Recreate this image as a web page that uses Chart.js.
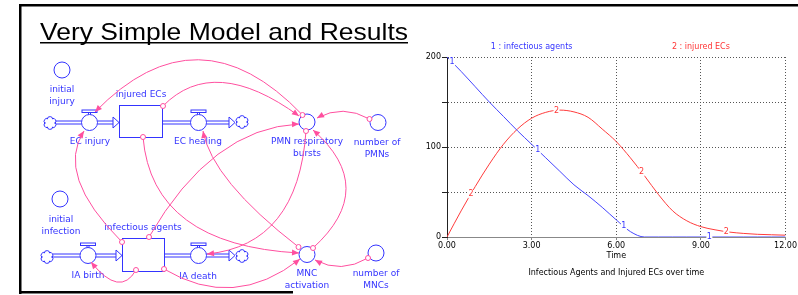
<!DOCTYPE html>
<html>
<head>
<meta charset="utf-8">
<script src="https://cdn.jsdelivr.net/npm/chart.js@4.4.1/dist/chart.umd.min.js"></script>
<style>
  html, body { margin: 0; padding: 0; background: #fff; }
  #page { position: relative; width: 798px; height: 295px; overflow: hidden; }
  #diagram { position: absolute; left: 0; top: 0; }
  #chartBox { position: absolute; left: 400px; top: 20px; width: 398px; height: 275px; }
</style>
</head>
<body>
<div id="page">
  <canvas id="diagram" width="798" height="295"></canvas>
  <div id="chartBox"><canvas id="resultsChart" width="398" height="275"></canvas></div>
</div>
<script>
// Simulation output (time in the model's units)
const timePoints = [0, 0.5, 1, 1.5, 2, 2.5, 3, 3.5, 4, 4.5, 5, 5.5, 6, 6.5, 7, 7.5, 8, 8.5, 9, 9.5, 10, 10.5, 11, 11.5, 12];
const infectiousAgents = [200, 184, 167, 150, 134, 118, 103, 88, 73, 58, 46, 33, 19, 6, 0, 0, 0, 0, 0, 0, 0, 0, 0, 0, 0];
const injuredECs = [0, 29, 56, 81, 103, 120, 132, 138.5, 141, 139, 133, 120, 106, 88, 68, 47, 29, 18, 11.5, 8, 5.5, 4, 3, 2.5, 2];

const seriesNames = ['1 : infectious agents', '2 : injured ECs'];
const xTickValues = [0, 3, 6, 9, 12];
const yTickValues = [0, 50, 100, 150, 200];
const yTickLabels = [0, 100, 200];

// Stella puts the curve number on each line every ~3 time units
const agentMarks = [0.18, 3.22, 6.27, 9.3];
const ecMarks = [0.85, 3.88, 6.9, 9.9];

const BLUE = '#3434ff';
const RED = '#ff3434';
const PINK = '#ff4f9f';

// ---------- left side: slide frame, title and stock/flow diagram ----------
function drawDiagram() {
    const dg = document.getElementById('diagram').getContext('2d');

    // slide frame
    dg.fillStyle = '#000';
    dg.fillRect(19, 4, 779, 2.5);
    dg.fillRect(19, 4, 2.5, 290);
    dg.fillRect(19, 291, 274, 2.5);

    // title
    const title = 'Very Simple Model and Results';
    dg.save();
    dg.font = '24px "Liberation Sans"';
    dg.fillStyle = '#000';
    const w = dg.measureText(title).width;
    dg.translate(40, 39.5);
    dg.scale(368 / w, 1);
    dg.fillText(title, 0, 0);
    dg.restore();
    dg.fillRect(40, 42, 368, 1.5);

    dg.lineWidth = 1;
    dg.strokeStyle = BLUE;

    function ring(x, y, r) {
        dg.beginPath();
        dg.arc(x, y, r, 0, 2 * Math.PI);
        dg.fillStyle = '#fff';
        dg.fill();
        dg.stroke();
    }
    function cloud(cx, cy) {
        dg.beginPath();
        for (let k = 0; k < 6; k++) {
            const a = k * Math.PI / 3 + Math.PI / 6;
            const bx = cx + 3.6 * Math.cos(a), by = cy + 3.6 * Math.sin(a);
            dg.moveTo(bx + 2.8 * Math.cos(a - 1.5), by + 2.8 * Math.sin(a - 1.5));
            dg.arc(bx, by, 2.8, a - 1.5, a + 1.5);
        }
        dg.stroke();
    }
    function pipe(x0, x1, y, arrow) {
        const end = arrow ? x1 - 6 : x1;
        dg.beginPath();
        dg.moveTo(x0, y - 1.5); dg.lineTo(end, y - 1.5);
        dg.moveTo(x0, y + 1.5); dg.lineTo(end, y + 1.5);
        dg.stroke();
        if (arrow) {
            dg.beginPath();
            dg.moveTo(x1 - 6, y - 5.5); dg.lineTo(x1, y); dg.lineTo(x1 - 6, y + 5.5);
            dg.closePath();
            dg.fillStyle = '#fff';
            dg.fill();
            dg.stroke();
        }
    }
    function valve(cx, cy) {
        ring(cx, cy, 8);
        dg.strokeRect(cx - 7.5, cy - 12.5, 15, 2.5);
        dg.beginPath();
        dg.moveTo(cx - 1, cy - 10); dg.lineTo(cx - 1, cy - 8);
        dg.moveTo(cx + 1, cy - 10); dg.lineTo(cx + 1, cy - 8);
        dg.stroke();
    }
    function label(lines, x, y) {
        dg.fillStyle = BLUE;
        dg.font = '9px "DejaVu Sans"';
        dg.textAlign = 'center';
        dg.textBaseline = 'middle';
        lines.forEach((s, i) => dg.fillText(s, x, y + i * 11.7));
    }

    // injured ECs chain
    pipe(56, 81.5, 122.5, false);
    pipe(97.5, 119, 122.5, true);
    pipe(163, 190.5, 122.5, false);
    pipe(206.5, 235, 122.5, true);
    cloud(50, 123);
    cloud(242, 122);
    valve(89.5, 122.5);
    valve(198.5, 122.5);
    dg.fillStyle = '#fff';
    dg.fillRect(119.5, 105.5, 43, 32);
    dg.strokeRect(119.5, 105.5, 43, 32);

    // infectious agents chain
    pipe(53, 80, 255.5, false);
    pipe(96, 122, 255.5, true);
    pipe(164, 190.5, 255.5, false);
    pipe(206.5, 235, 255.5, true);
    cloud(47, 257);
    cloud(242, 256);
    valve(88, 255.5);
    valve(198.5, 255.5);
    dg.fillStyle = '#fff';
    dg.fillRect(122.5, 238.5, 42, 33);
    dg.strokeRect(122.5, 238.5, 42, 33);

    // converters
    ring(62, 70, 8);
    ring(307, 122, 8);
    ring(378, 122.5, 8);
    ring(60, 199, 8);
    ring(307, 254.5, 8);
    ring(376, 253, 8);

    label(['initial', 'injury'], 62, 90);
    label(['injured ECs'], 141, 95);
    label(['EC injury'], 90, 142);
    label(['EC healing'], 198, 142);
    label(['PMN respiratory', 'bursts'], 307, 142);
    label(['number of', 'PMNs'], 377, 143);
    label(['initial', 'infection'], 61, 220);
    label(['infectious agents'], 143, 228);
    label(['IA birth'], 88, 276);
    label(['IA death'], 198, 277);
    label(['MNC', 'activation'], 307, 274);
    label(['number of', 'MNCs'], 376, 274);

    // pink connectors: start, control point, end
    function link(x0, y0, cx, cy, x1, y1) {
        dg.strokeStyle = PINK;
        dg.beginPath();
        dg.moveTo(x0, y0);
        dg.quadraticCurveTo(cx, cy, x1, y1);
        dg.stroke();
        const ang = Math.atan2(y1 - cy, x1 - cx);
        const bx = x1 - 7 * Math.cos(ang), by = y1 - 7 * Math.sin(ang);
        dg.beginPath();
        dg.moveTo(x1, y1);
        dg.lineTo(bx + 3 * Math.sin(ang), by - 3 * Math.cos(ang));
        dg.lineTo(bx - 3 * Math.sin(ang), by + 3 * Math.cos(ang));
        dg.closePath();
        dg.fillStyle = PINK;
        dg.fill();
        dg.beginPath();
        dg.arc(x0, y0, 2.5, 0, 2 * Math.PI);
        dg.fillStyle = '#fff';
        dg.fill();
        dg.stroke();
    }
    link(302.5, 115, 198, 6, 95, 112);      // PMN bursts -> EC injury
    link(163, 106, 214, 54, 299, 116);      // injured ECs -> PMN bursts
    link(369.5, 119, 343, 104, 317, 118);   // number of PMNs -> PMN bursts
    link(143, 137, 152, 245, 299, 253);     // injured ECs -> MNC activation
    link(298.5, 247, 212, 180, 203, 131);   // MNC activation -> EC healing
    link(306, 131, 298, 245, 207, 254);     // PMN bursts -> IA death
    link(149, 237, 212, 128, 299, 124);     // infectious agents -> PMN bursts
    link(313, 248, 379, 188, 313, 130);     // MNC activation -> PMN bursts
    link(122, 242, 55, 175, 84, 131);       // infectious agents -> EC injury
    link(136, 270, 120, 298, 91, 262);      // infectious agents -> IA birth
    link(164, 269, 234, 311, 300, 259);     // infectious agents -> MNC activation
    link(368, 258, 341, 274, 315, 260);     // number of MNCs -> MNC activation
}

// ---------- right side: the Chart.js graph ----------
function valueAt(values, t) {
    for (let i = 0; i < timePoints.length - 1; i++) {
        if (t >= timePoints[i] && t <= timePoints[i + 1]) {
            const f = (t - timePoints[i]) / (timePoints[i + 1] - timePoints[i]);
            return values[i] + f * (values[i + 1] - values[i]);
        }
    }
    return values[values.length - 1];
}

const overlayText = {
    id: 'overlayText',
    afterDatasetsDraw(chart) {
        const { ctx, chartArea: a, scales: { x, y } } = chart;
        ctx.save();
        ctx.font = '8px "DejaVu Sans"';
        ctx.textAlign = 'center';
        ctx.textBaseline = 'middle';

        [[agentMarks, infectiousAgents, '1', BLUE], [ecMarks, injuredECs, '2', RED]].forEach(([marks, vals, num, col]) => {
            marks.forEach(t => {
                const px = x.getPixelForValue(t);
                const py = y.getPixelForValue(valueAt(vals, t));
                ctx.fillStyle = '#fff';
                ctx.fillRect(px - 3, py - 4, 6, 8);
                ctx.fillStyle = col;
                ctx.fillText(num, px, py);
            });
        });

        ctx.fillStyle = BLUE;
        ctx.fillText(seriesNames[0], a.left + a.width * 0.25, a.top - 10);
        ctx.fillStyle = RED;
        ctx.fillText(seriesNames[1], a.left + a.width * 0.75, a.top - 10);

        const mid = (a.left + a.right) / 2;
        ctx.fillStyle = '#000';
        ctx.fillText('Time', mid, a.bottom + 19);
        ctx.fillText('Infectious Agents and Injured ECs over time', mid, a.bottom + 36);
        ctx.restore();
    }
};

function initResultsChart() {
    const ctx = document.getElementById('resultsChart');
    const tickFont = { family: 'DejaVu Sans', size: 8 };
    new Chart(ctx, {
        type: 'line',
        data: {
            datasets: [{
                label: seriesNames[0],
                data: timePoints.map((t, i) => ({ x: t, y: infectiousAgents[i] })),
                borderColor: 'rgb(70,70,255)',
                borderWidth: 1,
                pointRadius: 0,
                cubicInterpolationMode: 'monotone'
            }, {
                label: seriesNames[1],
                data: timePoints.map((t, i) => ({ x: t, y: injuredECs[i] })),
                borderColor: 'rgb(255,60,60)',
                borderWidth: 1,
                pointRadius: 0,
                cubicInterpolationMode: 'monotone'
            }]
        },
        options: {
            responsive: false,
            animation: false,
            layout: { padding: { top: 37, right: 9, left: 0, bottom: 0 } },
            plugins: { legend: { display: false }, tooltip: { enabled: false } },
            scales: {
                x: {
                    type: 'linear',
                    min: 0,
                    max: 12,
                    afterFit: s => { s.height = 58; },
                    afterBuildTicks: s => { s.ticks = xTickValues.map(v => ({ value: v })); },
                    ticks: { callback: v => v.toFixed(2), color: '#000', font: tickFont, maxRotation: 0, padding: 1 },
                    grid: { color: '#555', lineWidth: 1, tickLength: 3, tickColor: '#888' },
                    border: { color: '#888', width: 1, dash: [1, 2] }
                },
                y: {
                    min: 0,
                    max: 200,
                    afterFit: s => { s.width = 47; },
                    afterBuildTicks: s => { s.ticks = yTickValues.map(v => ({ value: v })); },
                    ticks: { callback: v => yTickLabels.includes(v) ? String(v) : '', color: '#000', font: tickFont, padding: 1 },
                    grid: { color: '#555', lineWidth: 1, tickLength: 5, tickColor: '#222' },
                    border: { color: '#222', width: 1, dash: [1, 2] }
                }
            }
        },
        plugins: [overlayText]
    });
}

drawDiagram();
initResultsChart();
</script>
</body>
</html>
